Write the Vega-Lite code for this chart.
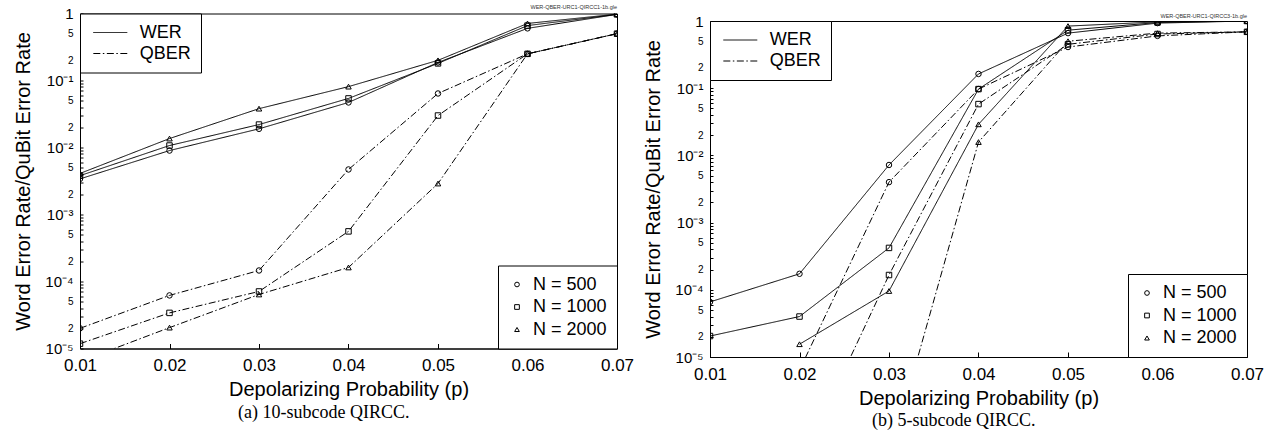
{
  "$schema": "https://vega.github.io/schema/vega-lite/v6.json",
  "padding": {"left": 13, "top": 3.5, "right": 4, "bottom": 5},
  "spacing": 8,
  "datasets": {
    "a": [
      {"p": 0.01, "v": 0.0034, "metric": "WER", "N": "N = 500"},
      {"p": 0.02, "v": 0.009, "metric": "WER", "N": "N = 500"},
      {"p": 0.03, "v": 0.019, "metric": "WER", "N": "N = 500"},
      {"p": 0.04, "v": 0.047, "metric": "WER", "N": "N = 500"},
      {"p": 0.05, "v": 0.186, "metric": "WER", "N": "N = 500"},
      {"p": 0.06, "v": 0.6, "metric": "WER", "N": "N = 500"},
      {"p": 0.07, "v": 0.97, "metric": "WER", "N": "N = 500"},
      {"p": 0.01, "v": 0.0038, "metric": "WER", "N": "N = 1000"},
      {"p": 0.02, "v": 0.0107, "metric": "WER", "N": "N = 1000"},
      {"p": 0.03, "v": 0.022, "metric": "WER", "N": "N = 1000"},
      {"p": 0.04, "v": 0.054, "metric": "WER", "N": "N = 1000"},
      {"p": 0.05, "v": 0.18, "metric": "WER", "N": "N = 1000"},
      {"p": 0.06, "v": 0.66, "metric": "WER", "N": "N = 1000"},
      {"p": 0.07, "v": 0.97, "metric": "WER", "N": "N = 1000"},
      {"p": 0.01, "v": 0.0041, "metric": "WER", "N": "N = 2000"},
      {"p": 0.02, "v": 0.0136, "metric": "WER", "N": "N = 2000"},
      {"p": 0.03, "v": 0.038, "metric": "WER", "N": "N = 2000"},
      {"p": 0.04, "v": 0.081, "metric": "WER", "N": "N = 2000"},
      {"p": 0.05, "v": 0.2, "metric": "WER", "N": "N = 2000"},
      {"p": 0.06, "v": 0.71, "metric": "WER", "N": "N = 2000"},
      {"p": 0.07, "v": 0.98, "metric": "WER", "N": "N = 2000"},
      {"p": 0.01, "v": 2.0e-5, "metric": "QBER", "N": "N = 500"},
      {"p": 0.02, "v": 6.2e-5, "metric": "QBER", "N": "N = 500"},
      {"p": 0.03, "v": 1.46e-4, "metric": "QBER", "N": "N = 500"},
      {"p": 0.04, "v": 0.0047, "metric": "QBER", "N": "N = 500"},
      {"p": 0.05, "v": 0.064, "metric": "QBER", "N": "N = 500"},
      {"p": 0.06, "v": 0.25, "metric": "QBER", "N": "N = 500"},
      {"p": 0.07, "v": 0.5, "metric": "QBER", "N": "N = 500"},
      {"p": 0.01, "v": 1.18e-5, "metric": "QBER", "N": "N = 1000"},
      {"p": 0.02, "v": 3.4e-5, "metric": "QBER", "N": "N = 1000"},
      {"p": 0.03, "v": 7.1e-5, "metric": "QBER", "N": "N = 1000"},
      {"p": 0.04, "v": 5.6e-4, "metric": "QBER", "N": "N = 1000"},
      {"p": 0.05, "v": 0.03, "metric": "QBER", "N": "N = 1000"},
      {"p": 0.06, "v": 0.25, "metric": "QBER", "N": "N = 1000"},
      {"p": 0.07, "v": 0.5, "metric": "QBER", "N": "N = 1000"},
      {"p": 0.01, "v": 6.4e-6, "metric": "QBER", "N": "N = 2000"},
      {"p": 0.02, "v": 2.05e-5, "metric": "QBER", "N": "N = 2000"},
      {"p": 0.03, "v": 6.4e-5, "metric": "QBER", "N": "N = 2000"},
      {"p": 0.04, "v": 1.62e-4, "metric": "QBER", "N": "N = 2000"},
      {"p": 0.05, "v": 0.0029, "metric": "QBER", "N": "N = 2000"},
      {"p": 0.06, "v": 0.25, "metric": "QBER", "N": "N = 2000"},
      {"p": 0.07, "v": 0.5, "metric": "QBER", "N": "N = 2000"}
    ],
    "b": [
      {"p": 0.01, "v": 6.6e-5, "metric": "WER", "N": "N = 500"},
      {"p": 0.02, "v": 1.73e-4, "metric": "WER", "N": "N = 500"},
      {"p": 0.03, "v": 0.0072, "metric": "WER", "N": "N = 500"},
      {"p": 0.04, "v": 0.163, "metric": "WER", "N": "N = 500"},
      {"p": 0.05, "v": 0.66, "metric": "WER", "N": "N = 500"},
      {"p": 0.06, "v": 0.93, "metric": "WER", "N": "N = 500"},
      {"p": 0.07, "v": 1.0, "metric": "WER", "N": "N = 500"},
      {"p": 0.01, "v": 2.05e-5, "metric": "WER", "N": "N = 1000"},
      {"p": 0.02, "v": 4.0e-5, "metric": "WER", "N": "N = 1000"},
      {"p": 0.03, "v": 4.2e-4, "metric": "WER", "N": "N = 1000"},
      {"p": 0.04, "v": 0.097, "metric": "WER", "N": "N = 1000"},
      {"p": 0.05, "v": 0.73, "metric": "WER", "N": "N = 1000"},
      {"p": 0.06, "v": 0.95, "metric": "WER", "N": "N = 1000"},
      {"p": 0.07, "v": 1.0, "metric": "WER", "N": "N = 1000"},
      {"p": 0.02, "v": 1.55e-5, "metric": "WER", "N": "N = 2000"},
      {"p": 0.03, "v": 9.6e-5, "metric": "WER", "N": "N = 2000"},
      {"p": 0.04, "v": 0.029, "metric": "WER", "N": "N = 2000"},
      {"p": 0.05, "v": 0.84, "metric": "WER", "N": "N = 2000"},
      {"p": 0.06, "v": 0.97, "metric": "WER", "N": "N = 2000"},
      {"p": 0.07, "v": 1.0, "metric": "WER", "N": "N = 2000"},
      {"p": 0.02, "v": 6.4e-6, "metric": "QBER", "N": "N = 500"},
      {"p": 0.03, "v": 0.004, "metric": "QBER", "N": "N = 500"},
      {"p": 0.04, "v": 0.097, "metric": "QBER", "N": "N = 500"},
      {"p": 0.05, "v": 0.41, "metric": "QBER", "N": "N = 500"},
      {"p": 0.06, "v": 0.6, "metric": "QBER", "N": "N = 500"},
      {"p": 0.07, "v": 0.69, "metric": "QBER", "N": "N = 500"},
      {"p": 0.02, "v": 2.4e-7, "metric": "QBER", "N": "N = 1000"},
      {"p": 0.03, "v": 1.66e-4, "metric": "QBER", "N": "N = 1000"},
      {"p": 0.04, "v": 0.058, "metric": "QBER", "N": "N = 1000"},
      {"p": 0.05, "v": 0.45, "metric": "QBER", "N": "N = 1000"},
      {"p": 0.06, "v": 0.64, "metric": "QBER", "N": "N = 1000"},
      {"p": 0.07, "v": 0.69, "metric": "QBER", "N": "N = 1000"},
      {"p": 0.03, "v": 3.0e-7, "metric": "QBER", "N": "N = 2000"},
      {"p": 0.04, "v": 0.0158, "metric": "QBER", "N": "N = 2000"},
      {"p": 0.05, "v": 0.5, "metric": "QBER", "N": "N = 2000"},
      {"p": 0.06, "v": 0.66, "metric": "QBER", "N": "N = 2000"},
      {"p": 0.07, "v": 0.69, "metric": "QBER", "N": "N = 2000"}
    ]
  },
  "hconcat": [
    {
      "width": 537,
      "height": 335,
      "title": {"text": "(a) 10-subcode QIRCC.", "orient": "bottom", "anchor": "middle", "frame": "bounds", "font": "Liberation Serif", "fontSize": 18, "fontWeight": "normal", "color": "black", "offset": 4},
      "encoding": {
        "x": {"field": "p", "type": "quantitative", "scale": {"domain": [0.01, 0.07], "nice": false, "zero": false},
              "axis": {"values": [0.01, 0.02, 0.03, 0.04, 0.05, 0.06, 0.07], "format": ".2f", "title": "Depolarizing Probability (p)", "labelFontSize": 17, "titleFontSize": 20, "tickSize": -5, "labelPadding": 14, "titlePadding": 6, "labelFlush": false}},
        "y": {"field": "v", "type": "quantitative", "scale": {"type": "log", "domain": [1e-5, 1], "nice": false},
              "axis": {"values": [1e-5, 2e-5, 3e-5, 4e-5, 5e-5, 6e-5, 7e-5, 8e-5, 9e-5, 1e-4, 2e-4, 3e-4, 4e-4, 5e-4, 6e-4, 7e-4, 8e-4, 9e-4, 0.001, 0.002, 0.003, 0.004, 0.005, 0.006, 0.007, 0.008, 0.009, 0.01, 0.02, 0.03, 0.04, 0.05, 0.06, 0.07, 0.08, 0.09, 0.1, 0.2, 0.3, 0.4, 0.5, 0.6, 0.7, 0.8, 0.9, 1],
                       "labelExpr": "datum.value > 0.99 ? '1' : (slice(format(datum.value, '.0e'), 0, 1) == '1' ? '10' + ['', '⁻¹', '⁻²', '⁻³', '⁻⁴', '⁻⁵'][-toNumber(slice(format(datum.value, '.0e'), 2))] : (slice(format(datum.value, '.0e'), 0, 1) == '2' || slice(format(datum.value, '.0e'), 0, 1) == '5' ? slice(format(datum.value, '.0e'), 0, 1) : ''))",
                       "labelFontSize": {"condition": {"test": "datum.value > 0.99 || slice(format(datum.value, '.0e'), 0, 1) == '1'", "value": 15}, "value": 10},
                       "labelBound": false, "labelOverlap": false, "labelFlush": false,
                       "title": "Word Error Rate/QuBit Error Rate", "titleFontSize": 20, "tickSize": -3, "labelPadding": 10, "titlePadding": 11}}
      },
      "layer": [
        {"data": {"name": "a"}, "mark": {"type": "line", "clip": true, "color": "black", "strokeWidth": 1},
         "encoding": {"strokeDash": {"field": "metric", "type": "nominal", "scale": {"domain": ["WER", "QBER"], "range": [[1, 0], [7, 2.5, 1.5, 2.5]]},
                                      "legend": {"orient": "top-left", "title": null, "symbolType": "M-3,0L3,0", "symbolSize": 128, "symbolOffset": 11.3, "labelOffset": 20.4, "labelFontSize": 18, "rowPadding": 3, "padding": 10}},
                      "detail": {"field": "N", "type": "nominal"}}},
        {"data": {"name": "a"}, "mark": {"type": "point", "clip": true, "filled": false, "color": "black", "size": 30, "strokeWidth": 1, "opacity": 1},
         "encoding": {"shape": {"field": "N", "type": "nominal", "scale": {"domain": ["N = 500", "N = 1000", "N = 2000"], "range": ["circle", "square", "triangle-up"]},
                                "legend": {"orient": "bottom-right", "title": null, "symbolSize": 22, "labelFontSize": 18, "rowPadding": 4.5, "padding": 10, "labelOffset": 7}},
                      "detail": {"field": "metric", "type": "nominal"}}},
        {"data": {"values": [{"p": 0.07, "v": 1, "t": "WER-QBER-URC1-QIRCC1-1b.gle"}]},
         "mark": {"type": "text", "align": "right", "baseline": "bottom", "dy": -4, "fontSize": 5.5, "font": "Liberation Sans", "color": "#333"},
         "encoding": {"text": {"field": "t", "type": "nominal"}}}
      ]
    },
    {
      "spacing": -1.5,
      "resolve": {"scale": {"strokeDash": "independent", "shape": "independent"}, "legend": {"strokeDash": "independent", "shape": "independent"}},
      "vconcat": [
        {"width": 537, "height": 1, "view": {"stroke": null}, "data": {"values": []}, "mark": {"type": "point", "opacity": 0}, "encoding": {}},
        {
          "width": 537,
          "height": 336,
          "title": {"text": "(b) 5-subcode QIRCC.", "orient": "bottom", "anchor": "middle", "frame": "bounds", "font": "Liberation Serif", "fontSize": 18, "fontWeight": "normal", "color": "black", "offset": 4},
          "encoding": {
            "x": {"field": "p", "type": "quantitative", "scale": {"domain": [0.01, 0.07], "nice": false, "zero": false},
                  "axis": {"values": [0.01, 0.02, 0.03, 0.04, 0.05, 0.06, 0.07], "format": ".2f", "title": "Depolarizing Probability (p)", "labelFontSize": 17, "titleFontSize": 20, "tickSize": -5, "labelPadding": 14, "titlePadding": 6, "labelFlush": false}},
            "y": {"field": "v", "type": "quantitative", "scale": {"type": "log", "domain": [1e-5, 1], "nice": false},
                  "axis": {"values": [1e-5, 2e-5, 3e-5, 4e-5, 5e-5, 6e-5, 7e-5, 8e-5, 9e-5, 1e-4, 2e-4, 3e-4, 4e-4, 5e-4, 6e-4, 7e-4, 8e-4, 9e-4, 0.001, 0.002, 0.003, 0.004, 0.005, 0.006, 0.007, 0.008, 0.009, 0.01, 0.02, 0.03, 0.04, 0.05, 0.06, 0.07, 0.08, 0.09, 0.1, 0.2, 0.3, 0.4, 0.5, 0.6, 0.7, 0.8, 0.9, 1],
                           "labelExpr": "datum.value > 0.99 ? '1' : (slice(format(datum.value, '.0e'), 0, 1) == '1' ? '10' + ['', '⁻¹', '⁻²', '⁻³', '⁻⁴', '⁻⁵'][-toNumber(slice(format(datum.value, '.0e'), 2))] : (slice(format(datum.value, '.0e'), 0, 1) == '2' || slice(format(datum.value, '.0e'), 0, 1) == '5' ? slice(format(datum.value, '.0e'), 0, 1) : ''))",
                           "labelFontSize": {"condition": {"test": "datum.value > 0.99 || slice(format(datum.value, '.0e'), 0, 1) == '1'", "value": 15}, "value": 10},
                           "labelBound": false, "labelOverlap": false, "labelFlush": false,
                           "title": "Word Error Rate/QuBit Error Rate", "titleFontSize": 20, "tickSize": -3, "labelPadding": 10, "titlePadding": 11}}
          },
          "layer": [
            {"data": {"name": "b"}, "mark": {"type": "line", "clip": true, "color": "black", "strokeWidth": 1},
             "encoding": {"strokeDash": {"field": "metric", "type": "nominal", "scale": {"domain": ["WER", "QBER"], "range": [[1, 0], [7, 2.5, 1.5, 2.5]]},
                                          "legend": {"orient": "top-left", "title": null, "symbolType": "M-3,0L3,0", "symbolSize": 128, "symbolOffset": 11.3, "labelOffset": 20.4, "labelFontSize": 18, "rowPadding": 3, "padding": 10}},
                          "detail": {"field": "N", "type": "nominal"}}},
            {"data": {"name": "b"}, "mark": {"type": "point", "clip": true, "filled": false, "color": "black", "size": 30, "strokeWidth": 1, "opacity": 1},
             "encoding": {"shape": {"field": "N", "type": "nominal", "scale": {"domain": ["N = 500", "N = 1000", "N = 2000"], "range": ["circle", "square", "triangle-up"]},
                                    "legend": {"orient": "bottom-right", "title": null, "symbolSize": 22, "labelFontSize": 18, "rowPadding": 4.5, "padding": 10, "labelOffset": 7}},
                          "detail": {"field": "metric", "type": "nominal"}}},
            {"data": {"values": [{"p": 0.07, "v": 1, "t": "WER-QBER-URC1-QIRCC3-1b.gle"}]},
             "mark": {"type": "text", "align": "right", "baseline": "bottom", "dy": -2, "fontSize": 5.5, "font": "Liberation Sans", "color": "#333"},
             "encoding": {"text": {"field": "t", "type": "nominal"}}}
          ]
        }
      ]
    }
  ],
  "resolve": {"scale": {"strokeDash": "independent", "shape": "independent"}, "legend": {"strokeDash": "independent", "shape": "independent"}},
  "config": {
    "font": "Liberation Sans",
    "view": {"stroke": "black", "strokeWidth": 1},
    "axis": {"grid": false, "domainColor": "black", "tickColor": "black", "labelColor": "black", "titleColor": "black", "labelFont": "Liberation Sans", "titleFont": "Liberation Sans", "titleFontWeight": "normal"},
    "legend": {"strokeColor": "black", "fillColor": "white", "offset": 0, "cornerRadius": 0, "labelFont": "Liberation Sans", "labelColor": "black", "symbolStrokeColor": "black", "symbolStrokeWidth": 1}
  }
}
